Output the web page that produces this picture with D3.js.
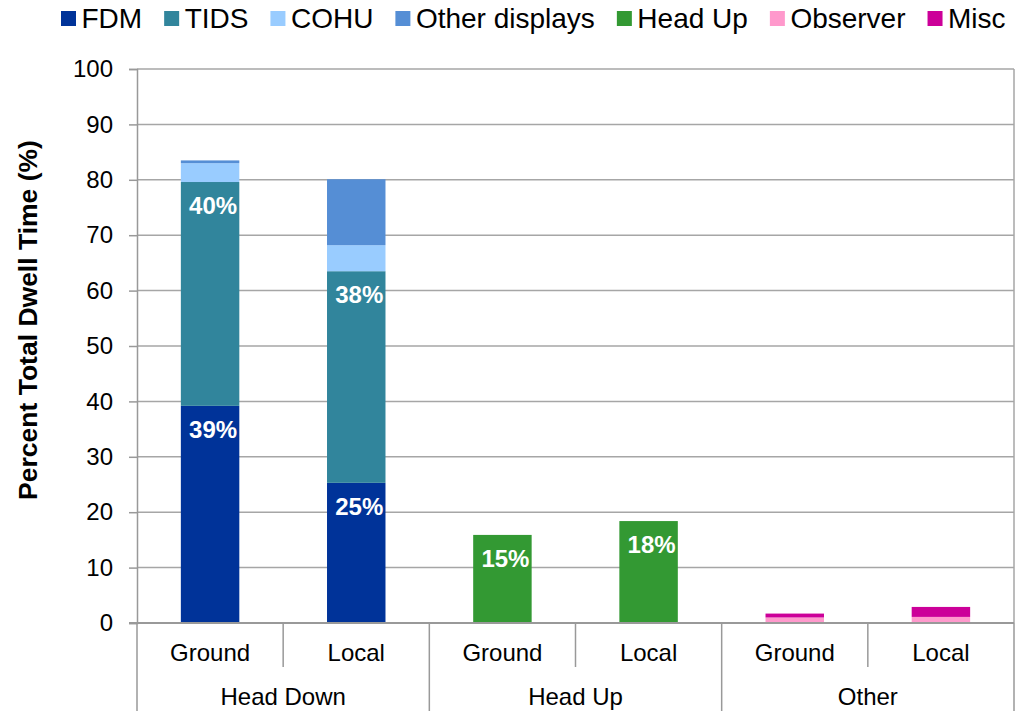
<!DOCTYPE html>
<html>
<head>
<meta charset="utf-8">
<script src="https://cdn.jsdelivr.net/npm/d3@7"></script>
<style>
	body { margin: 0; background: #fff; }
	svg { display: block; font-family: "Liberation Sans", Arial, sans-serif; }
</style>
</head>
<body>
<div id="chart"></div>
<script>
"use strict";

// categories
var groups = ["Head Down", "Head Up", "Other"];
var subCats = ["Ground", "Local"];
var seriesNames = ["FDM", "TIDS", "COHU", "Other displays", "Head Up", "Observer", "Misc"];
var seriesColors = ["#003399", "#31859C", "#99CCFF", "#558ED5", "#339933", "#FF99CC", "#CC0099"];

// series values, one per bar (HD Ground, HD Local, HU Ground, HU Local, Other Ground, Other Local)
var fdm      = [39.2, 25.3, 0, 0, 0, 0];
var tids     = [40.4, 38.2, 0, 0, 0, 0];
var cohu     = [3.4, 4.7, 0, 0, 0, 0];
var otherDisp = [0.5, 11.9, 0, 0, 0, 0];
var headUp   = [0, 0, 15.9, 18.4, 0, 0];
var observer = [0, 0, 0, 0, 1.0, 1.1];
var misc     = [0, 0, 0, 0, 0.7, 1.8];

// data labels shown on the bars
var fdmLabels    = ["39%", "25%", "", "", "", ""];
var tidsLabels   = ["40%", "38%", "", "", "", ""];
var headUpLabels = ["", "", "15%", "18%", "", ""];

// y axis ticks
var yTicks = [0, 10, 20, 30, 40, 50, 60, 70, 80, 90, 100];

var width = 1034, height = 711;
var margin = { left: 137, right: 20, top: 69, bottom: 88 };

var allValues = [fdm, tids, cohu, otherDisp, headUp, observer, misc];
var allLabels = [fdmLabels, tidsLabels, null, null, headUpLabels, null, null];

var bars = [];
groups.forEach(function(g, gi) {
	subCats.forEach(function(s, si) {
		var i = gi * subCats.length + si;
		var row = { id: g + "|" + s, group: g, sub: s };
		seriesNames.forEach(function(n, k) { row[n] = allValues[k][i]; });
		bars.push(row);
	});
});

var svg = d3.select("#chart").append("svg")
	.attr("width", width)
	.attr("height", height);

var x = d3.scaleBand()
	.domain(bars.map(function(d) { return d.id; }))
	.range([margin.left, width - margin.right])
	.paddingInner(0.6)
	.paddingOuter(0.3);

var y = d3.scaleLinear()
	.domain([0, 100])
	.range([height - margin.bottom, margin.top]);

var step = x.step();
var x0 = margin.left, x1 = width - margin.right;
var y0 = y(0);

// gridlines
svg.append("g")
	.selectAll("line")
	.data(yTicks.filter(function(t) { return t > 0; }))
	.join("line")
	.attr("x1", x0).attr("x2", x1)
	.attr("y1", function(d) { return y(d); })
	.attr("y2", function(d) { return y(d); })
	.attr("stroke", "#a6a6a6")
	.attr("stroke-width", 1.5);

// right border
svg.append("line")
	.attr("x1", x1).attr("x2", x1)
	.attr("y1", y(100)).attr("y2", y0)
	.attr("stroke", "#a6a6a6").attr("stroke-width", 1.5);

// stacked bars
var stack = d3.stack().keys(seriesNames);
var layers = stack(bars);

svg.append("g")
	.selectAll("g")
	.data(layers)
	.join("g")
	.attr("fill", function(d, i) { return seriesColors[i]; })
	.selectAll("rect")
	.data(function(d) { return d.filter(function(p) { return p[1] - p[0] > 0; }); })
	.join("rect")
	.attr("x", function(d) { return x(d.data.id); })
	.attr("width", x.bandwidth())
	.attr("y", function(d) { return y(d[1]); })
	.attr("height", function(d) { return y(d[0]) - y(d[1]); });

// data labels, inside the top of their segment
layers.forEach(function(layer, k) {
	var lab = allLabels[k];
	if (!lab) return;
	svg.append("g")
		.selectAll("text")
		.data(layer.filter(function(p, i) { return lab[i] !== ""; }))
		.join("text")
		.attr("x", function(d) { return x(d.data.id) + x.bandwidth() / 2 + 3; })
		.attr("y", function(d) { return y(d[1]) + 32; })
		.attr("text-anchor", "middle")
		.attr("fill", "#fff")
		.attr("font-weight", "bold")
		.attr("font-size", "24px")
		.text(function(d) { return lab[bars.indexOf(d.data)]; });
});

// y axis
var yAxis = d3.axisLeft(y).tickValues(yTicks).tickSize(8).tickPadding(16);
var gy = svg.append("g")
	.attr("transform", "translate(" + x0 + ",0)")
	.call(yAxis);
gy.select(".domain").attr("stroke", "#999").attr("stroke-width", 1.5);
gy.selectAll(".tick line").attr("stroke", "#999").attr("stroke-width", 1.5);
gy.selectAll(".tick text")
	.attr("font-size", "24px")
	.attr("font-family", "Liberation Sans, Arial, sans-serif")
	.attr("fill", "#000");

// x axis baseline
svg.append("line")
	.attr("x1", x0 - 8).attr("x2", x1)
	.attr("y1", y0).attr("y2", y0)
	.attr("stroke", "#999").attr("stroke-width", 2);

// category dividers: sub-level short, group-level to the bottom
var bounds = d3.range(bars.length + 1);
svg.append("g")
	.selectAll("line")
	.data(bounds)
	.join("line")
	.attr("x1", function(i) { return x0 + i * step; })
	.attr("x2", function(i) { return x0 + i * step; })
	.attr("y1", y0)
	.attr("y2", function(i) { return i % subCats.length === 0 ? height : y0 + 44; })
	.attr("stroke", "#999")
	.attr("stroke-width", 1.5);

// sub category labels
svg.append("g")
	.selectAll("text")
	.data(bars)
	.join("text")
	.attr("x", function(d) { return x(d.id) + x.bandwidth() / 2; })
	.attr("y", y0 + 38)
	.attr("text-anchor", "middle")
	.attr("font-size", "24px")
	.text(function(d) { return d.sub; });

// group labels
svg.append("g")
	.selectAll("text")
	.data(groups)
	.join("text")
	.attr("x", function(d, i) { return x0 + (i + 0.5) * step * subCats.length; })
	.attr("y", y0 + 82)
	.attr("text-anchor", "middle")
	.attr("font-size", "24px")
	.text(function(d) { return d; });

// y axis title
svg.append("text")
	.attr("transform", "translate(37,320) rotate(-90)")
	.attr("text-anchor", "middle")
	.attr("font-weight", "bold")
	.attr("font-size", "26.5px")
	.text("Percent Total Dwell Time (%)");

// legend
var legend = svg.append("g").attr("transform", "translate(61,0)");
var lx = 0;
seriesNames.forEach(function(n, i) {
	legend.append("rect")
		.attr("x", lx).attr("y", 11)
		.attr("width", 15).attr("height", 15)
		.attr("fill", seriesColors[i]);
	var t = legend.append("text")
		.attr("x", lx + 20.5).attr("y", 27.5)
		.attr("font-size", "28px")
		.text(n);
	lx += 20.5 + t.node().getComputedTextLength() + 22;
});
</script>
</body>
</html>
